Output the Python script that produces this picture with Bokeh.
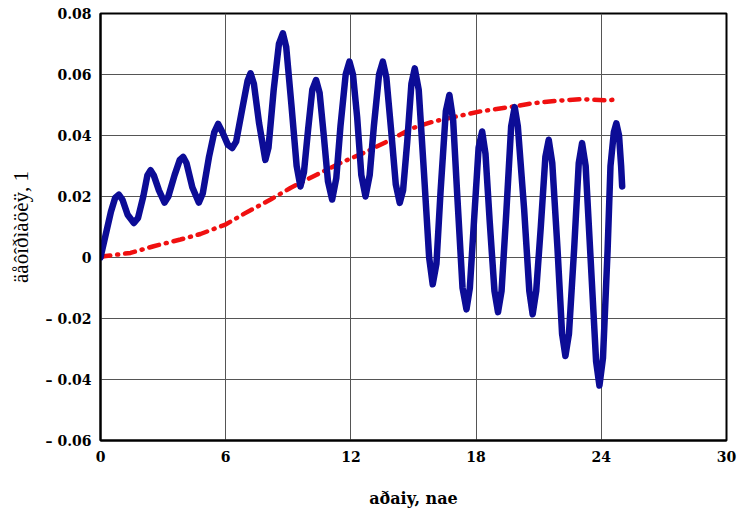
from bokeh.plotting import figure
from bokeh.models import FixedTicker
from bokeh.embed import file_html
from bokeh.resources import INLINE

# Blue curve: deformation vs time
t_blue = [0, 0.1, 0.3, 0.5, 0.7, 0.88, 1.05, 1.3, 1.6, 1.8, 2.05, 2.25, 2.4, 2.55, 2.8,
          3.07, 3.25, 3.55, 3.8, 3.96, 4.12, 4.4, 4.71, 4.9, 5.2, 5.45, 5.64, 5.85, 6.1,
          6.31, 6.5, 6.8, 7.05, 7.19, 7.35, 7.6, 7.9, 8.05, 8.3, 8.55, 8.74, 8.9, 9.15,
          9.4, 9.58, 9.75, 9.95, 10.15, 10.33, 10.5, 10.7, 10.9, 11.1, 11.3, 11.5, 11.75,
          11.93, 12.1, 12.3, 12.5, 12.7, 12.9, 13.1, 13.35, 13.53, 13.7, 13.95, 14.15,
          14.34, 14.5, 14.7, 14.9, 15.06, 15.25, 15.5, 15.75, 15.92, 16.1, 16.3, 16.55,
          16.72, 16.9, 17.1, 17.35, 17.54, 17.7, 17.9, 18.12, 18.29, 18.45, 18.65, 18.88,
          19.05, 19.22, 19.45, 19.68, 19.85, 20.0, 20.3, 20.55, 20.71, 20.88, 21.1, 21.32,
          21.48, 21.65, 21.9, 22.12, 22.28, 22.45, 22.7, 22.92, 23.08, 23.25, 23.5, 23.75,
          23.91, 24.08, 24.3, 24.44, 24.6, 24.72, 24.85, 24.95, 25.0]
y_blue = [0, 0.003, 0.009, 0.015, 0.0195, 0.0206, 0.019, 0.014, 0.0113, 0.013, 0.020,
          0.027, 0.0286, 0.027, 0.022, 0.018, 0.020, 0.027, 0.032, 0.033, 0.031, 0.023,
          0.018, 0.021, 0.033, 0.041, 0.0438, 0.041, 0.037, 0.0359, 0.038, 0.049, 0.058,
          0.0604, 0.057, 0.044, 0.032, 0.036, 0.055, 0.070, 0.0735, 0.069, 0.050, 0.030,
          0.0233, 0.028, 0.042, 0.055, 0.0582, 0.054, 0.040, 0.025, 0.019, 0.026, 0.043,
          0.060, 0.0642, 0.060, 0.046, 0.027, 0.020, 0.027, 0.043, 0.060, 0.0642, 0.059,
          0.040, 0.024, 0.0179, 0.022, 0.038, 0.057, 0.062, 0.055, 0.028, 0.000, -0.0088,
          -0.002, 0.022, 0.048, 0.0533, 0.045, 0.020, -0.010, -0.017, -0.010, 0.012, 0.036,
          0.0413, 0.034, 0.012, -0.011, -0.0179, -0.011, 0.015, 0.043, 0.0493, 0.043, 0.016,
          -0.011, -0.0186, -0.011, 0.010, 0.033, 0.0386, 0.031, 0.003, -0.025, -0.0323,
          -0.025, 0.003, 0.031, 0.0375, 0.030, -0.002, -0.034, -0.042, -0.033, 0.002, 0.030,
          0.041, 0.044, 0.040, 0.030, 0.0233]

# Red dash-dot curve
t_red = [0, 0.16, 1.44, 2.55, 3.83, 4.79, 5.99, 6.87, 8.15, 9.1, 10.38, 11.5, 12.78,
         13.9, 14.94, 15.97, 17.17, 18.2, 19.49, 20.76, 21.88, 23.0, 24.28, 24.76]
y_red = [0, 0.0004, 0.0015, 0.0037, 0.0059, 0.0077, 0.0108, 0.0143, 0.019, 0.0228,
         0.0272, 0.031, 0.0348, 0.0386, 0.0424, 0.0446, 0.0464, 0.0479, 0.0492, 0.0506,
         0.0514, 0.0519, 0.0515, 0.0519]

x_ticks = [0, 6, 12, 18, 24, 30]
y_ticks = [-0.06, -0.04, -0.02, 0, 0.02, 0.04, 0.06, 0.08]
y_tick_labels = ["\u2013 0.06", "\u2013 0.04", "\u2013 0.02", "0", "0.02", "0.04", "0.06", "0.08"]
x_label = "aðaiy, nae"
y_label = "äåôîðìàöèÿ, 1"

BOLD_FONT = "DejaVu Serif"
REG_FONT = "Liberation Serif"

p = figure(width=740, height=510, x_range=(0, 30), y_range=(-0.06, 0.08),
           output_backend="svg", toolbar_location=None,
           min_border_left=100, min_border_right=14, min_border_top=13, min_border_bottom=69)

p.background_fill_color = "white"
p.border_fill_color = "white"
p.outline_line_color = "black"
p.outline_line_width = 2

p.line(t_red, y_red, line_color="#f01010", line_width=4.5, line_dash="10 7 1 7", line_cap="round")
p.line(t_blue, y_blue, line_color="#0c0c96", line_width=6.5, line_join="round", line_cap="round")

p.xaxis.ticker = FixedTicker(ticks=x_ticks)
p.yaxis.ticker = FixedTicker(ticks=y_ticks)
p.yaxis.major_label_overrides = {v: s for v, s in zip(y_ticks, y_tick_labels)}

for ax in (p.xaxis[0], p.yaxis[0]):
    ax.axis_line_color = "black"
    ax.axis_line_width = 2
    ax.major_tick_line_color = None
    ax.minor_tick_line_color = None
    ax.major_label_text_font = BOLD_FONT
    ax.major_label_text_font_style = "bold"
    ax.major_label_text_font_size = "14px"
    ax.major_label_text_color = "black"
    ax.axis_label_text_color = "black"

p.xaxis.axis_label = x_label
p.yaxis.axis_label = y_label
p.xaxis.axis_label_text_font = BOLD_FONT
p.yaxis.axis_label_text_font = REG_FONT
p.xaxis.axis_label_text_font_style = "bold"
p.yaxis.axis_label_text_font_style = "normal"
p.xaxis.axis_label_text_font_size = "16px"
p.yaxis.axis_label_text_font_size = "21px"
p.xaxis.major_label_standoff = 4
p.yaxis.major_label_standoff = 3
p.xaxis.axis_label_standoff = 24
p.yaxis.axis_label_standoff = 10

p.grid.grid_line_color = "#555555"
p.grid.grid_line_width = 1

open("out.html", "w").write(file_html(p, INLINE))
